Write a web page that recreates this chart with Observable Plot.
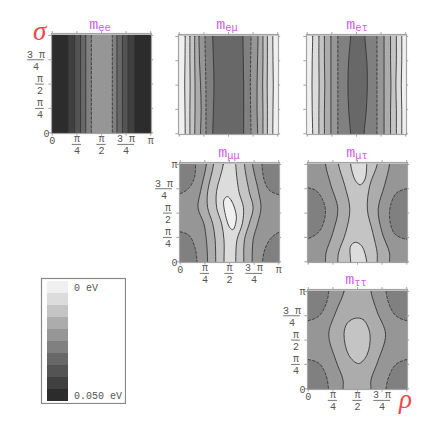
<!DOCTYPE html>
<html>
<head>
<meta charset="utf-8">
<script src="https://cdn.jsdelivr.net/npm/d3@7"></script>
<script src="https://cdn.jsdelivr.net/npm/@observablehq/plot@0.6"></script>
<style>
  html, body { margin: 0; padding: 0; background: #fff; overflow: hidden; }
  #page { position: relative; width: 436px; height: 433px; }
  #page svg { position: absolute; background: transparent; opacity: 0.999; }
  .ttl { position: absolute; transform: translateX(-50%); color: #d65ce6; font-family: "Liberation Mono", monospace; font-size: 15px; line-height: 15px; white-space: nowrap; opacity: 0.999; }
  .ttl sub { font-size: 10.5px; vertical-align: -2px; line-height: 0; }
  .axn { position: absolute; color: #f04848; font-family: "Liberation Serif", serif; font-style: italic; font-size: 27px; line-height: 27px; opacity: 0.999; }
</style>
</head>
<body>
<div id="page"></div>
<script>
// Grey levels of the colour key, 0 eV first (rho and sigma are in units of pi)
const levelGreys = ["#f0f0f0","#dcdcdc","#c4c4c4","#acacac","#969696","#808080","#686868","#545454","#404040","#2c2c2c"];
const keyLabels = [{i: 0, t: "0 eV"}, {i: 9, t: "0.050 eV"}];
const tickValues = [0, 0.25, 0.5, 0.75, 1];
const tickLabels = ["0", "π\n4", "π\n2", "3 π\n4", "π"];

// m_ee: constant-rho edges
const meeLeft  = [0.16, 0.227, 0.287, 0.34, 0.397];
const meeRight = [0.837, 0.77, 0.713, 0.657, 0.61];
const meeGreys = ["#404040","#545454","#686868","#808080","#969696"];

// m_e-mu: edges sampled at these sigma rows
const emuRows  = [1, 0.75, 0.5, 0.25, 0];
const emuLeft  = [[.06,.058,.055,.058,.06],[.108,.108,.11,.108,.108],[.157,.157,.16,.16,.157],[.2,.205,.216,.222,.216],[.261,.265,.27,.271,.271],[.34,.347,.353,.347,.34]];
const emuRight = [[.95,.952,.955,.952,.95],[.895,.895,.893,.895,.895],[.85,.85,.847,.85,.85],[.8,.795,.79,.79,.796],[.729,.725,.722,.725,.729],[.647,.65,.654,.654,.654]];
const emuGreys = ["#dcdcdc","#c4c4c4","#acacac","#969696","#808080","#686868"];

// m_e-tau
const etaRows  = [1, 0.75, 0.5, 0.25, 0];
const etaLeft  = [[.055,.05,.048,.05,.055],[.118,.118,.12,.118,.118],[.174,.174,.178,.174,.174],[.24,.24,.24,.24,.24],[.31,.31,.31,.31,.31],[.44,.42,.413,.42,.44]];
const etaRight = [[.96,.96,.955,.96,.96],[.905,.905,.9,.905,.905],[.846,.846,.85,.846,.846],[.78,.78,.78,.78,.78],[.708,.708,.708,.708,.708],[.584,.605,.61,.6,.577]];
const etaGreys = ["#dcdcdc","#c4c4c4","#acacac","#969696","#808080","#686868"];

// m_mu-mu
const mmRows  = [1, 0.72, 0.555, 0.39, 0.225, 0];
const mmLeft  = [[.265,.205,.18,.24,.265,.278],[.338,.278,.278,.33,.354,.36],[.437,.368,.37,.42,.444,.444]];
const mmRight = [[.735,.795,.82,.785,.74,.73],[.652,.70,.74,.70,.652,.645],[.563,.596,.642,.63,.576,.563]];
const mmGreys = ["#acacac","#c4c4c4","#dcdcdc"];
const mmCornerBL = [[-.06,.307],[0,.307],[.09,.27],[.15,.14],[.17,0],[.17,-.06],[-.06,-.06]];
const mmCornerTL = [[-.06,.70],[0,.70],[.09,.76],[.145,.87],[.155,1],[.155,1.08],[-.06,1.08]];
const mmCornerTR = [[1.06,.69],[1,.69],[.90,.74],[.85,.85],[.83,1],[.83,1.08],[1.06,1.08]];
const mmCornerBR = [[1.06,.30],[1,.30],[.92,.24],[.86,.13],[.835,0],[.835,-.06],[1.06,-.06]];
const mmBlob = [[.477,.67],[.52,.627],[.57,.462],[.536,.33],[.503,.35],[.444,.556],[.444,.637]];

// m_mu-tau
const mtRows  = [1, 0.785, 0.54, 0.3, 0.09, 0];
const mtLeft  = [[.175,.23,.30,.25,.18,.175],[.307,.37,.422,.38,.307,.30]];
const mtRight = [[.825,.775,.71,.75,.825,.825],[.70,.625,.60,.655,.70,.70]];
const mtGreys = ["#acacac","#c4c4c4"];
const mtLobeL = [[-.06,.76],[0,.76],[.08,.73],[.14,.65],[.175,.52],[.14,.36],[.09,.29],[0,.24],[-.06,.24]];
const mtLobeR = [[1.06,.75],[1,.75],[.89,.70],[.825,.505],[.875,.29],[1,.23],[1.06,.23]];
const mtBlobTop = [[.43,1.08],[.43,1],[.478,.835],[.528,.79],[.577,.85],[.594,1],[.594,1.08]];
const mtBlobBottom = [[.43,-.06],[.43,0],[.43,.16],[.478,.2],[.545,.16],[.594,0],[.594,-.06]];

// m_tau-tau
const ttRows  = [1, 0.79, 0.56, 0.29, 0.09, 0];
const ttLeft  = [.363,.28,.208,.28,.353,.353];
const ttRight = [.637,.70,.785,.71,.637,.637];
const ttCornerBL = [[-.06,.30],[0,.30],[.11,.26],[.18,.14],[.205,0],[.205,-.06],[-.06,-.06]];
const ttCornerTL = [[-.06,.70],[0,.70],[.11,.75],[.18,.87],[.208,1],[.208,1.08],[-.06,1.08]];
const ttCornerTR = [[1.06,.70],[1,.70],[.89,.75],[.82,.87],[.79,1],[.79,1.08],[1.06,1.08]];
const ttCornerBR = [[1.06,.30],[1,.30],[.89,.25],[.82,.13],[.79,0],[.79,-.06],[1.06,-.06]];
const ttBlob = [[.478,.725],[.561,.708],[.627,.558],[.594,.342],[.51,.259],[.413,.342],[.363,.558],[.396,.674]];

// Build a closed band from a left and a right edge sampled on shared rows
function band(left, right, rows) {
  const up = rows.map((s, i) => [left[i], s]);
  const down = rows.map((s, i) => [right[i], s]).reverse();
  return [[left[0], 1.1], ...up, [left[left.length - 1], -0.1], [right[right.length - 1], -0.1], ...down, [right[0], 1.1]];
}
function bands(lefts, rights, rows, greys, dashedGrey) {
  return lefts.map((l, k) => ({pts: band(l, rights[k], rows), fill: greys[k], dash: greys[k] === dashedGrey}));
}
const straightRows = [1, 0.5, 0];
const meeShapes = meeLeft.map((l, k) => ({pts: band([l, l, l], [meeRight[k], meeRight[k], meeRight[k]], straightRows), fill: meeGreys[k], dash: k === 4}));

const panels = [
  {name: "ee", box: [51, 33], cx: 100, ty: 18, base: "#2c2c2c", shapes: meeShapes, xl: [0,1,2,3,4], yl: [0,1,2,3]},
  {name: "eμ", box: [178, 34], cx: 227, ty: 18, base: "#f0f0f0", shapes: bands(emuLeft, emuRight, emuRows, emuGreys, "#808080"), xl: [], yl: []},
  {name: "eτ", box: [306, 34], cx: 357, ty: 18, base: "#f0f0f0", shapes: bands(etaLeft, etaRight, etaRows, etaGreys, "#808080"), xl: [], yl: []},
  {name: "μμ", box: [179, 162], cx: 229, ty: 146, base: "#969696", shapes: [
      ...[mmCornerBL, mmCornerTL, mmCornerTR, mmCornerBR].map(pts => ({pts, fill: "#808080", dash: true})),
      ...bands(mmLeft, mmRight, mmRows, mmGreys),
      {pts: mmBlob, fill: "#f0f0f0"}], xl: [0,1,2,3,4], yl: [0,1,2,3,4]},
  {name: "μτ", box: [307, 162], cx: 357, ty: 146, base: "#969696", shapes: [
      {pts: mtLobeL, fill: "#808080", dash: true}, {pts: mtLobeR, fill: "#808080", dash: true},
      ...bands(mtLeft, mtRight, mtRows, mtGreys),
      {pts: mtBlobTop, fill: "#dcdcdc"}, {pts: mtBlobBottom, fill: "#dcdcdc"}], xl: [], yl: []},
  {name: "ττ", box: [307, 289], cx: 356, ty: 273, base: "#969696", shapes: [
      ...[ttCornerBL, ttCornerTL, ttCornerTR, ttCornerBR].map(pts => ({pts, fill: "#808080", dash: true})),
      {pts: band(ttLeft, ttRight, ttRows), fill: "#acacac"},
      {pts: ttBlob, fill: "#c4c4c4"}], xl: [0,1,2,3], yl: [0,1,2,3,4]}
];

const page = document.getElementById("page");
const font = "Liberation Mono, monospace";
const inkText = "#555";
const frameInk = "#a4a4a4";
const mL = 42, mR = 6, mT = 6, mB = 34, side = 100;

for (const p of panels) {
  const xItems = p.xl.map(i => ({v: tickValues[i], t: tickLabels[i], frac: i > 0 && i < 4, w: i === 3 ? 0.085 : 0.047}));
  const yItems = p.yl.map(i => ({v: tickValues[i], t: tickLabels[i], frac: i > 0 && i < 4, wide: i === 3}));
  const strip = [{x1: -0.008, x2: 1.008, y1: 1, y2: 1.02}];
  const svg = Plot.plot({
    width: side + mL + mR, height: side + mT + mB,
    marginLeft: mL, marginRight: mR, marginTop: mT, marginBottom: mB,
    x: {domain: [-0.008, 1.008], axis: null},
    y: {domain: [-0.008, 1.02], axis: null},
    style: {background: "transparent", fontFamily: font, fontSize: "10px", overflow: "visible"},
    marks: [
      Plot.frame({fill: p.base, stroke: "none"}),
      ...p.shapes.map(s => Plot.line(s.pts, {
        x: d => d[0], y: d => d[1], fill: s.fill, stroke: "#333", strokeWidth: 1, strokeOpacity: 0.88,
        strokeDasharray: s.dash ? "2.5,2" : null, curve: "catmull-rom-closed", clip: "frame"
      })),
      Plot.rect(strip, {x1: "x1", x2: "x2", y1: "y1", y2: "y2", fill: "#c8c8c8"}),
      Plot.frame({stroke: frameInk, strokeWidth: 1.2}),
      Plot.ruleX(tickValues, {x: d => d, y1: () => -0.008, y2: () => -0.035, stroke: frameInk}),
      Plot.ruleX(tickValues, {x: d => d, y1: () => 1.02, y2: () => 1.04, stroke: frameInk}),
      Plot.ruleY(tickValues, {y: d => d, x1: () => -0.008, x2: () => -0.035, stroke: frameInk}),
      Plot.ruleY(tickValues, {y: d => d, x1: () => 1.008, x2: () => 1.03, stroke: frameInk}),
      Plot.text(xItems, {x: "v", y: d => d.frac ? -0.12 : -0.075, text: "t", fill: inkText, lineHeight: 1.2, fontSize: 10}),
      Plot.ruleY(xItems.filter(d => d.frac), {y: () => -0.12, x1: d => d.v - d.w, x2: d => d.v + d.w, stroke: "#777"}),
      Plot.text(yItems, {y: "v", x: d => d.wide ? -0.165 : d.frac ? -0.125 : -0.06, text: "t", fill: inkText, lineHeight: 1.2, fontSize: 10}),
      Plot.ruleY(yItems.filter(d => d.frac), {y: "v", x1: d => d.wide ? -0.25 : -0.17, x2: () => -0.08, stroke: "#777"})
    ]
  });
  svg.style.left = (p.box[0] - mL) + "px";
  svg.style.top = (p.box[1] - mT) + "px";
  page.appendChild(svg);

  const t = document.createElement("div");
  t.className = "ttl";
  t.style.left = p.cx + "px";
  t.style.top = p.ty + "px";
  t.innerHTML = "m<sub>" + p.name + "</sub>";
  page.appendChild(t);
}

// Colour key
const keySvg = Plot.plot({
  width: 86, height: 127, marginLeft: 1, marginRight: 1, marginTop: 1, marginBottom: 1,
  x: {type: "band", domain: ["key"], range: [4, 30], axis: null},
  y: {type: "band", domain: d3.range(levelGreys.length), range: [3, 125], padding: 0, axis: null},
  style: {background: "transparent", fontFamily: font, fontSize: "10px"},
  marks: [
    Plot.frame({stroke: "#888", strokeWidth: 1.2}),
    Plot.cell(levelGreys, {x: () => "key", y: (d, i) => i, fill: d => d}),
    Plot.text(keyLabels, {x: () => "key", y: "i", text: "t", dx: 16, textAnchor: "start", fill: inkText, fontSize: 10})
  ]
});
keySvg.style.left = "40px";
keySvg.style.top = "277px";
page.appendChild(keySvg);

// Red axis names
for (const [txt, l, tp] of [["σ", 33, 18], ["ρ", 399, 386]]) {
  const a = document.createElement("div");
  a.className = "axn";
  a.textContent = txt;
  a.style.left = l + "px";
  a.style.top = tp + "px";
  page.appendChild(a);
}
</script>
</body>
</html>
